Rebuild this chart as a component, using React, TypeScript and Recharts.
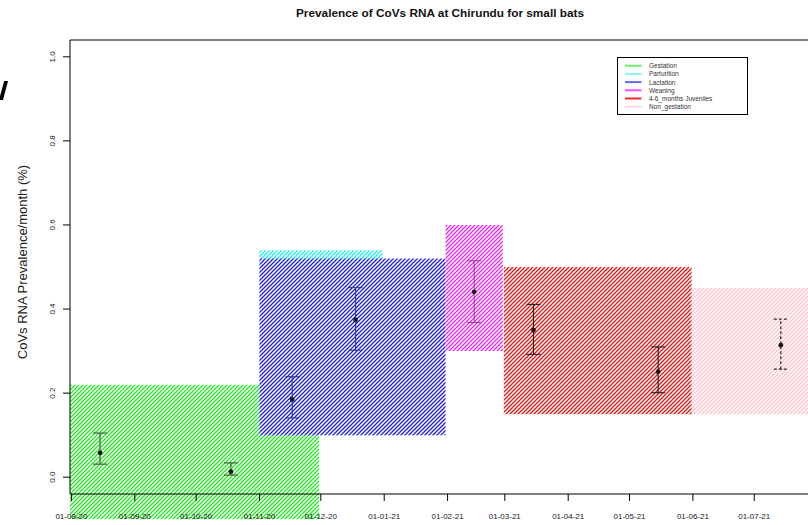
import {
  ComposedChart,
  XAxis,
  YAxis,
  Scatter,
  ErrorBar,
  ReferenceArea,
  ReferenceLine,
} from "recharts";

const FONT = '"Liberation Sans", Arial, Helvetica, sans-serif';

// x axis: days counted from 01-08-2020
const X_MIN = -0.7;
const X_MAX = 360.3;
const Y_MIN = -0.04;
const Y_MAX = 1.04;

const monthTicks = [0, 31, 61, 92, 122, 153, 184, 212, 243, 273, 304, 334];
const monthLabels = [
  "01-08-20", "01-09-20", "01-10-20", "01-11-20", "01-12-20", "01-01-21",
  "01-02-21", "01-03-21", "01-04-21", "01-05-21", "01-06-21", "01-07-21",
];
const yTicks = [0, 0.2, 0.4, 0.6, 0.8, 1.0];
const yTickLabels = ["0.0", "0.2", "0.4", "0.6", "0.8", "1.0"];

// reproductive periods (hatched boxes)
const periodNames = ["Gestation", "Parturition", "Lactation", "Weaning", "4-6_months Juveniles", "Non_gestation"];
const periodStart = [-0.7, 92, 92, 183, 211.5, 303.4];
const periodEnd = [121.2, 152.2, 183, 211, 303.4, 360.3];
const periodTop = [0.22, 0.54, 0.52, 0.6, 0.5, 0.45];
const periodBottom = [-0.1, 0.1, 0.1, 0.3, 0.15, 0.15];
const hatchColors = ["#22e622", "#22eeee", "#1c1cd6", "#ee22ee", "#e01010", "#ffc0cb"];
const legendColors = ["#66ee66", "#88f4f4", "#6a6aee", "#ee55ee", "#ee2a2a", "#ffd4dc"];

// monthly prevalence with confidence interval
const sampleDays = [14, 78, 108, 139, 197, 226, 287, 347];
const sampleGroup = [0, 0, 2, 2, 3, 4, 4, 5];
const samplePrev = [0.058, 0.013, 0.185, 0.374, 0.441, 0.35, 0.251, 0.314];
const sampleLower = [0.031, 0.005, 0.141, 0.302, 0.368, 0.292, 0.201, 0.257];
const sampleUpper = [0.105, 0.034, 0.239, 0.451, 0.515, 0.411, 0.31, 0.376];
const errorColors = ["#445c44", "#000", "#35438c", "#a244a2", "#262626", "#262626"];

const groups = Array.from(new Set(sampleGroup)).map((g) => ({
  group: g,
  data: sampleDays
    .map((d, i) => ({
      x: d,
      y: samplePrev[i],
      err: [samplePrev[i] - sampleLower[i], sampleUpper[i] - samplePrev[i]],
      g: sampleGroup[i],
    }))
    .filter((p) => p.g === g),
}));

function XTick({ x, y, payload }: any) {
  const i = monthTicks.indexOf(payload.value);
  return (
    <text x={x} y={y} dy={16} textAnchor="middle" fontSize={8} fill="#222" fontFamily={FONT}>
      {monthLabels[i]}
    </text>
  );
}

function YTick({ x, y, payload }: any) {
  const i = yTicks.indexOf(payload.value);
  const cx = x - 8;
  return (
    <text
      x={cx}
      y={y}
      transform={`rotate(-90 ${cx} ${y})`}
      textAnchor="middle"
      dominantBaseline="central"
      fontSize={8}
      fill="#222"
      fontFamily={FONT}
    >
      {yTickLabels[i]}
    </text>
  );
}

function Dot(props: any) {
  return <circle cx={props.cx} cy={props.cy} r={2.4} fill="#141414" />;
}

export default function App() {
  return (
    <div
      style={{
        position: "absolute",
        left: 0,
        top: 0,
        width: 808,
        height: 525,
        overflow: "hidden",
        background: "#fff",
        fontFamily: FONT,
      }}
    >
      <ComposedChart width={808} height={525} margin={{ top: 40, right: 0, left: 0, bottom: 0 }}>
        <defs>
          {hatchColors.map((c, i) => (
            <pattern key={i} id={`hatch${i}`} width={4} height={4} patternUnits="userSpaceOnUse">
              {i > 0 && <rect x={0} y={0} width={4} height={4} fill="#fff" />}
              <path d="M-1,1 l2,-2 M0,4 l4,-4 M3,5 l2,-2" stroke={c} strokeWidth={1.25} />
            </pattern>
          ))}
        </defs>
        <XAxis
          dataKey="x"
          type="number"
          domain={[X_MIN, X_MAX]}
          ticks={monthTicks}
          interval={0}
          allowDataOverflow
          height={31}
          tickSize={7}
          axisLine={{ stroke: "#000" }}
          tickLine={{ stroke: "#000" }}
          tick={<XTick />}
        />
        <YAxis
          type="number"
          domain={[Y_MIN, Y_MAX]}
          ticks={yTicks}
          interval={0}
          allowDataOverflow
          width={70}
          tickSize={7}
          axisLine={{ stroke: "#000" }}
          tickLine={{ stroke: "#000" }}
          tick={<YTick />}
        />
        <ReferenceLine y={Y_MAX} stroke="#000" strokeWidth={1} />
        {periodNames.map((n, i) => (
          <ReferenceArea
            key={n}
            x1={periodStart[i]}
            x2={periodEnd[i]}
            y1={periodBottom[i]}
            y2={periodTop[i]}
            fill={`url(#hatch${i})`}
            fillOpacity={1}
            stroke="none"
            ifOverflow="visible"
          />
        ))}
        {groups.map((g) => (
          <Scatter
            key={g.group}
            data={g.data}
            dataKey="y"
            shape={<Dot />}
            isAnimationActive={false}
          >
            <ErrorBar
              dataKey="err"
              direction="y"
              width={7}
              stroke={errorColors[g.group]}
              strokeWidth={1.2}
              strokeDasharray={g.group === 5 ? "3 2" : undefined}
              isAnimationActive={false}
            />
          </Scatter>
        ))}
      </ComposedChart>

      <svg
        width={808}
        height={525}
        style={{ position: "absolute", left: 0, top: 0, pointerEvents: "none" }}
      >
        {/* cropped glyph stroke at the left edge */}
        <path d="M4.2,81 L8,81 L3,100 L-1,100 Z" fill="#000" />
        <text x={440} y={17} textAnchor="middle" fontSize={11.8} fontWeight="bold" fill="#111" fontFamily={FONT}>
          Prevalence of CoVs RNA at Chirundu for small bats
        </text>
        <text
          x={22}
          y={262}
          transform="rotate(-90 22 262)"
          textAnchor="middle"
          dominantBaseline="central"
          fontSize={13}
          fill="#222"
          fontFamily={FONT}
        >
          CoVs RNA Prevalence/month (%)
        </text>
        <rect x={617.5} y={57.5} width={130} height={57} fill="#fff" stroke="#000" strokeWidth={1} />
        {periodNames.map((n, i) => (
          <g key={n}>
            <line x1={625} x2={641.5} y1={65.7 + i * 8.2} y2={65.7 + i * 8.2} stroke={legendColors[i]} strokeWidth={2} />
            <text x={649} y={65.7 + i * 8.2} dominantBaseline="central" fontSize={6.5} fill="#333" fontFamily={FONT}>
              {n}
            </text>
          </g>
        ))}
      </svg>
    </div>
  );
}
